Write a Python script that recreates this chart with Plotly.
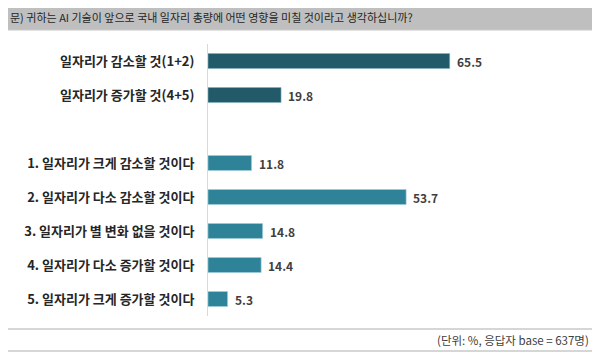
import plotly.graph_objects as go

title_text = "문) 귀하는 AI 기술이 앞으로 국내 일자리 총량에 어떤 영향을 미칠 것이라고 생각하십니까?"
footer_text = "(단위: %, 응답자 base = 637명)"

summary_labels = ["일자리가 감소할 것(1+2)", "일자리가 증가할 것(4+5)"]
summary_values = [65.5, 19.8]

item_labels = [
    "1. 일자리가 크게 감소할 것이다",
    "2. 일자리가 다소 감소할 것이다",
    "3. 일자리가 별 변화 없을 것이다",
    "4. 일자리가 다소 증가할 것이다",
    "5. 일자리가 크게 증가할 것이다",
]
item_values = [11.8, 53.7, 14.8, 14.4, 5.3]

spacer = [" "]
category_order = summary_labels + spacer + item_labels

FONT = "Noto Sans CJK KR, Noto Sans, sans-serif"
DARK = "#235a69"
LIGHT = "#2e8399"

# the page body adds an 8px margin; the figure is laid out in window pixels minus it
OFF = 8
W, H = 600 - OFF, 355 - OFF
L, T = 208 - OFF, 44 - OFF
PW, PH = 369, 272
R = W - L - PW
B = H - T - PH


def px(x):
    return (x - OFF - L) / PW


def py(y):
    return (T + PH - (y - OFF)) / PH


fig = go.Figure()
fig.add_trace(go.Bar(
    x=summary_values, y=summary_labels, orientation="h",
    marker=dict(color=DARK, line=dict(color="#7fb3c2", width=0.6)),
    width=0.44, hoverinfo="x+y",
))
fig.add_trace(go.Bar(
    x=item_values, y=item_labels, orientation="h",
    marker=dict(color=LIGHT, line=dict(color="#9fcfdc", width=0.6)),
    width=0.44, hoverinfo="x+y",
))

for labels, values in ((summary_labels, summary_values), (item_labels, item_values)):
    for lab, val in zip(labels, values):
        fig.add_annotation(
            x=val, y=lab, xref="x", yref="y", text=f"{val:.1f}",
            showarrow=False, xanchor="left", yanchor="middle", xshift=5,
            font=dict(family=FONT, size=12, color="#3f3f3f", weight=700),
        )

shapes = [
    dict(type="rect", xref="paper", yref="paper", x0=px(2), x1=px(596), y0=py(30), y1=py(3),
         fillcolor="#bfbfbf", line=dict(color="#c8c8c8", width=1), layer="below"),
    dict(type="line", xref="paper", yref="paper", x0=px(2), x1=px(597), y0=py(329), y1=py(329),
         line=dict(color="#c9c9c9", width=1.5)),
    dict(type="line", xref="paper", yref="paper", x0=px(2), x1=px(597), y0=py(351), y1=py(351),
         line=dict(color="#c9c9c9", width=1.5)),
]

fig.add_annotation(
    x=px(8), y=py(16.5), xref="paper", yref="paper", text=title_text, showarrow=False,
    xanchor="left", yanchor="middle",
    font=dict(family=FONT, size=11, color="#262626"),
)
fig.add_annotation(
    x=px(591), y=py(340), xref="paper", yref="paper", text=footer_text, showarrow=False,
    xanchor="right", yanchor="middle",
    font=dict(family=FONT, size=11.5, color="#404040"),
)

fig.update_layout(
    width=W, height=H,
    margin=dict(l=L, r=R, t=T, b=B, pad=0),
    paper_bgcolor="white", plot_bgcolor="white",
    barmode="overlay", showlegend=False,
    shapes=shapes,
    xaxis=dict(range=[0, 100], visible=False, showgrid=False, zeroline=False),
    yaxis=dict(
        type="category", categoryorder="array", categoryarray=category_order,
        range=[len(category_order) - 0.5, -0.5],
        showline=True, linecolor="#d9d9d9", linewidth=1, showgrid=False,
        ticks="", ticklabelstandoff=10,
        tickfont=dict(family=FONT, size=13, color="#262626", weight=700),
    ),
)

fig.write_html("out.html")
